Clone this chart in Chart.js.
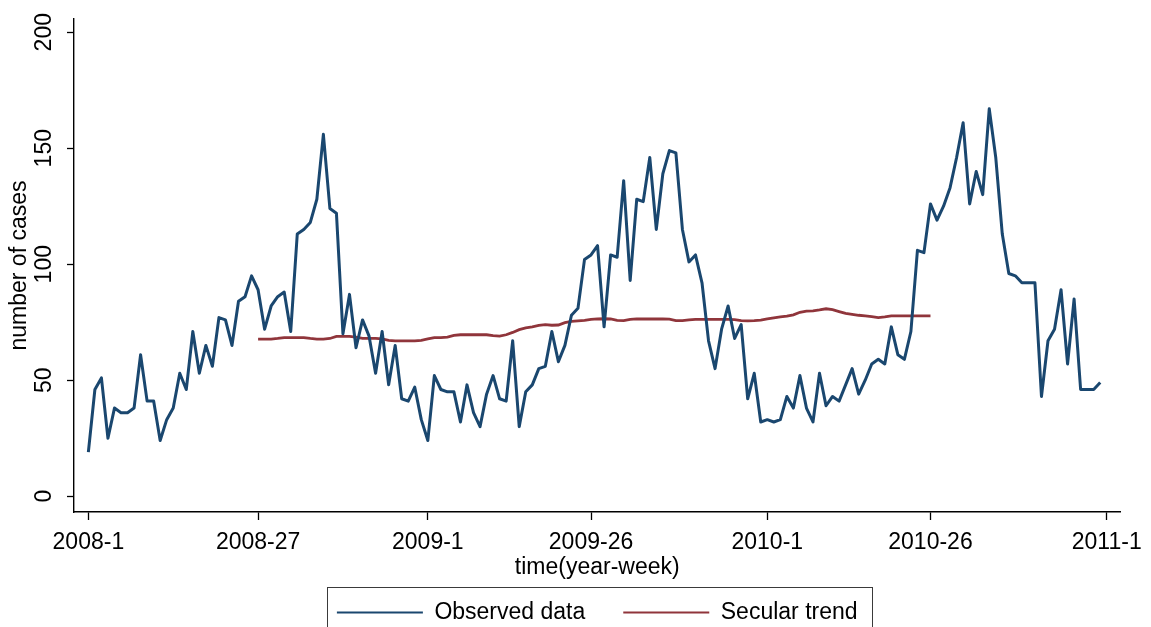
<!DOCTYPE html>
<html>
<head>
<meta charset="utf-8">
<script src="https://cdn.jsdelivr.net/npm/chart.js@4/dist/chart.umd.min.js"></script>
<style>
  html, body { margin: 0; padding: 0; background: #ffffff; }
  #wrap { width: 1151px; height: 627px; }
</style>
</head>
<body>
<div id="wrap"><canvas id="c" width="1151" height="627"></canvas></div>
<script>
// ---- data (week index 0 = 2008-1, Stata weekly: 52 weeks per year) ----
const weekTickValues = [0, 26, 52, 77, 104, 129, 156];
const weekTickLabels = ['2008-1', '2008-27', '2009-1', '2009-26', '2010-1', '2010-26', '2011-1'];
const caseTickValues = [0, 50, 100, 150, 200];

const observedCases = [
  19, 46, 51, 25, 38, 36, 36, 38, 61, 41,
  41, 24, 33, 38, 53, 46, 71, 53, 65, 56,
  77, 76, 65, 84, 86, 95, 89, 72, 82, 86,
  88, 71, 113, 115, 118, 128, 156, 124, 122, 70,
  87, 64, 76, 69, 53, 71, 48, 65, 42, 41,
  47, 33, 24, 52, 46, 45, 45, 32, 48, 36,
  30, 44, 52, 42, 41, 67, 30, 45, 48, 55,
  56, 71, 58, 65, 78, 81, 102, 104, 108, 73,
  104, 103, 136, 93, 128, 127, 146, 115, 139, 149,
  148, 115, 101, 104, 92, 67, 55, 72, 82, 68,
  74, 42, 53, 32, 33, 32, 33, 43, 38, 52,
  38, 32, 53, 39, 43, 41, 48, 55, 44, 50,
  57, 59, 57, 73, 61, 59, 71, 106, 105, 126,
  119, 125, 133, 146, 161, 126, 140, 130, 167, 146,
  113, 96, 95, 92, 92, 92, 43, 67, 72, 89,
  57, 85, 46, 46, 46, 49
];

const trendStartWeek = 26;
const secularTrend = [
  67.7, 67.7, 67.7, 68.0, 68.4, 68.4, 68.4, 68.4, 68.0, 67.7, 67.7, 68.0,
  68.9, 68.9, 68.9, 68.6, 68.0, 68.0, 68.0, 67.8, 67.2, 67.0, 67.0, 67.0, 67.0, 67.2,
  67.8, 68.4, 68.4, 68.6, 69.3, 69.6, 69.6, 69.6, 69.6, 69.6, 69.2, 69.0,
  69.6, 70.6, 71.8, 72.6, 73.0, 73.6, 74.0, 73.7, 73.8, 74.8, 75.4, 75.6, 75.8, 76.2,
  76.4, 76.5, 76.4, 75.8, 75.7, 76.2, 76.4, 76.4, 76.4, 76.4, 76.4, 76.3, 75.7, 75.7, 76.0,
  76.2, 76.2, 76.2, 76.2, 76.2, 76.2, 76.1, 75.7, 75.6, 75.7, 75.9, 76.4, 76.9, 77.3, 77.6,
  78.2, 79.3, 79.8, 79.9, 80.3, 80.8, 80.4, 79.6, 78.8, 78.4, 78.0, 77.7, 77.4, 77.0, 77.3,
  77.7, 77.7, 77.7, 77.7, 77.7, 77.7, 77.7
];

const seriesNames = ['Observed data', 'Secular trend'];
const seriesColors = ['#1a476f', '#90353b'];

// ---- build library data ----
const observedPoints = observedCases.map((v, i) => ({ x: i, y: v }));
const trendPoints = secularTrend.map((v, i) => ({ x: trendStartWeek + i, y: v }));

Chart.defaults.font.family = '"Liberation Sans", Arial, Helvetica, sans-serif';
Chart.defaults.font.size = 23;
Chart.defaults.color = '#000000';

const legendFrame = {
  id: 'legendFrame',
  afterDraw(chart) {
    const lg = chart.legend;
    if (!lg || !lg.legendHitBoxes || !lg.legendHitBoxes.length) return;
    const hb = lg.legendHitBoxes;
    const left = Math.min(...hb.map(h => h.left)) - 10;
    const right = Math.max(...hb.map(h => h.left + h.width)) + 14;
    const top = hb[0].top - 14;
    const ctx = chart.ctx;
    ctx.save();
    ctx.strokeStyle = '#3a3a3a';
    ctx.lineWidth = 1;
    ctx.strokeRect(Math.round(left) + 0.5, Math.round(top) + 0.5, Math.round(right - left), 60);
    ctx.restore();
  }
};

new Chart(document.getElementById('c'), {
  type: 'line',
  data: {
    datasets: [
      {
        label: seriesNames[0],
        data: observedPoints,
        borderColor: seriesColors[0],
        backgroundColor: seriesColors[0],
        borderWidth: 3,
        pointRadius: 0,
        tension: 0,
        borderJoinStyle: 'round'
      },
      {
        label: seriesNames[1],
        data: trendPoints,
        borderColor: seriesColors[1],
        backgroundColor: seriesColors[1],
        borderWidth: 2.8,
        pointRadius: 0,
        tension: 0
      }
    ]
  },
  options: {
    responsive: false,
    animation: false,
    devicePixelRatio: 1,
    layout: { padding: { left: 0, right: 23, top: 19, bottom: -7 } },
    plugins: {
      tooltip: { enabled: false },
      legend: {
        position: 'bottom',
        fullSize: false,
        labels: {
          boxWidth: 86,
          boxHeight: 2,
          padding: 38,
          color: '#000000',
          font: { size: 23 },
          generateLabels(chart) {
            return Chart.defaults.plugins.legend.labels.generateLabels(chart).map(l => ({
              ...l, lineWidth: 0, fillStyle: l.strokeStyle
            }));
          }
        }
      }
    },
    scales: {
      x: {
        type: 'linear',
        min: -2.2,
        max: 158.1,
        afterBuildTicks(scale) { scale.ticks = weekTickValues.map(v => ({ value: v })); },
        afterFit(scale) { scale.height = 51; },
        ticks: {
          autoSkip: false,
          maxRotation: 0,
          padding: 9,
          font: { size: 23 },
          color: '#000000',
          callback(value) {
            const i = weekTickValues.indexOf(value);
            return i >= 0 ? weekTickLabels[i] : '';
          }
        },
        grid: { display: true, drawOnChartArea: false, drawTicks: true, tickLength: 8, color: '#000000', tickColor: '#000000', tickWidth: 1.3 },
        border: { display: true, color: '#000000', width: 1.4 },
        title: { display: true, text: 'time(year-week)', font: { size: 23 }, color: '#000000', padding: { top: 0, bottom: -18 } }
      },
      y: {
        type: 'linear',
        min: -6.8,
        max: 205.7,
        afterBuildTicks(scale) { scale.ticks = caseTickValues.map(v => ({ value: v })); },
        afterFit(scale) { scale.width = 74; },
        ticks: {
          minRotation: 90,
          maxRotation: 90,
          crossAlign: 'center',
          padding: 3,
          font: { size: 23 },
          color: '#000000'
        },
        grid: { display: true, drawOnChartArea: false, drawTicks: true, tickLength: 7, color: '#000000', tickColor: '#000000', tickWidth: 1.3 },
        border: { display: true, color: '#000000', width: 1.4 },
        title: { display: true, text: 'number of cases', font: { size: 23 }, color: '#000000', padding: { top: 6, bottom: 0 } }
      }
    }
  },
  plugins: [legendFrame]
});
</script>
</body>
</html>
